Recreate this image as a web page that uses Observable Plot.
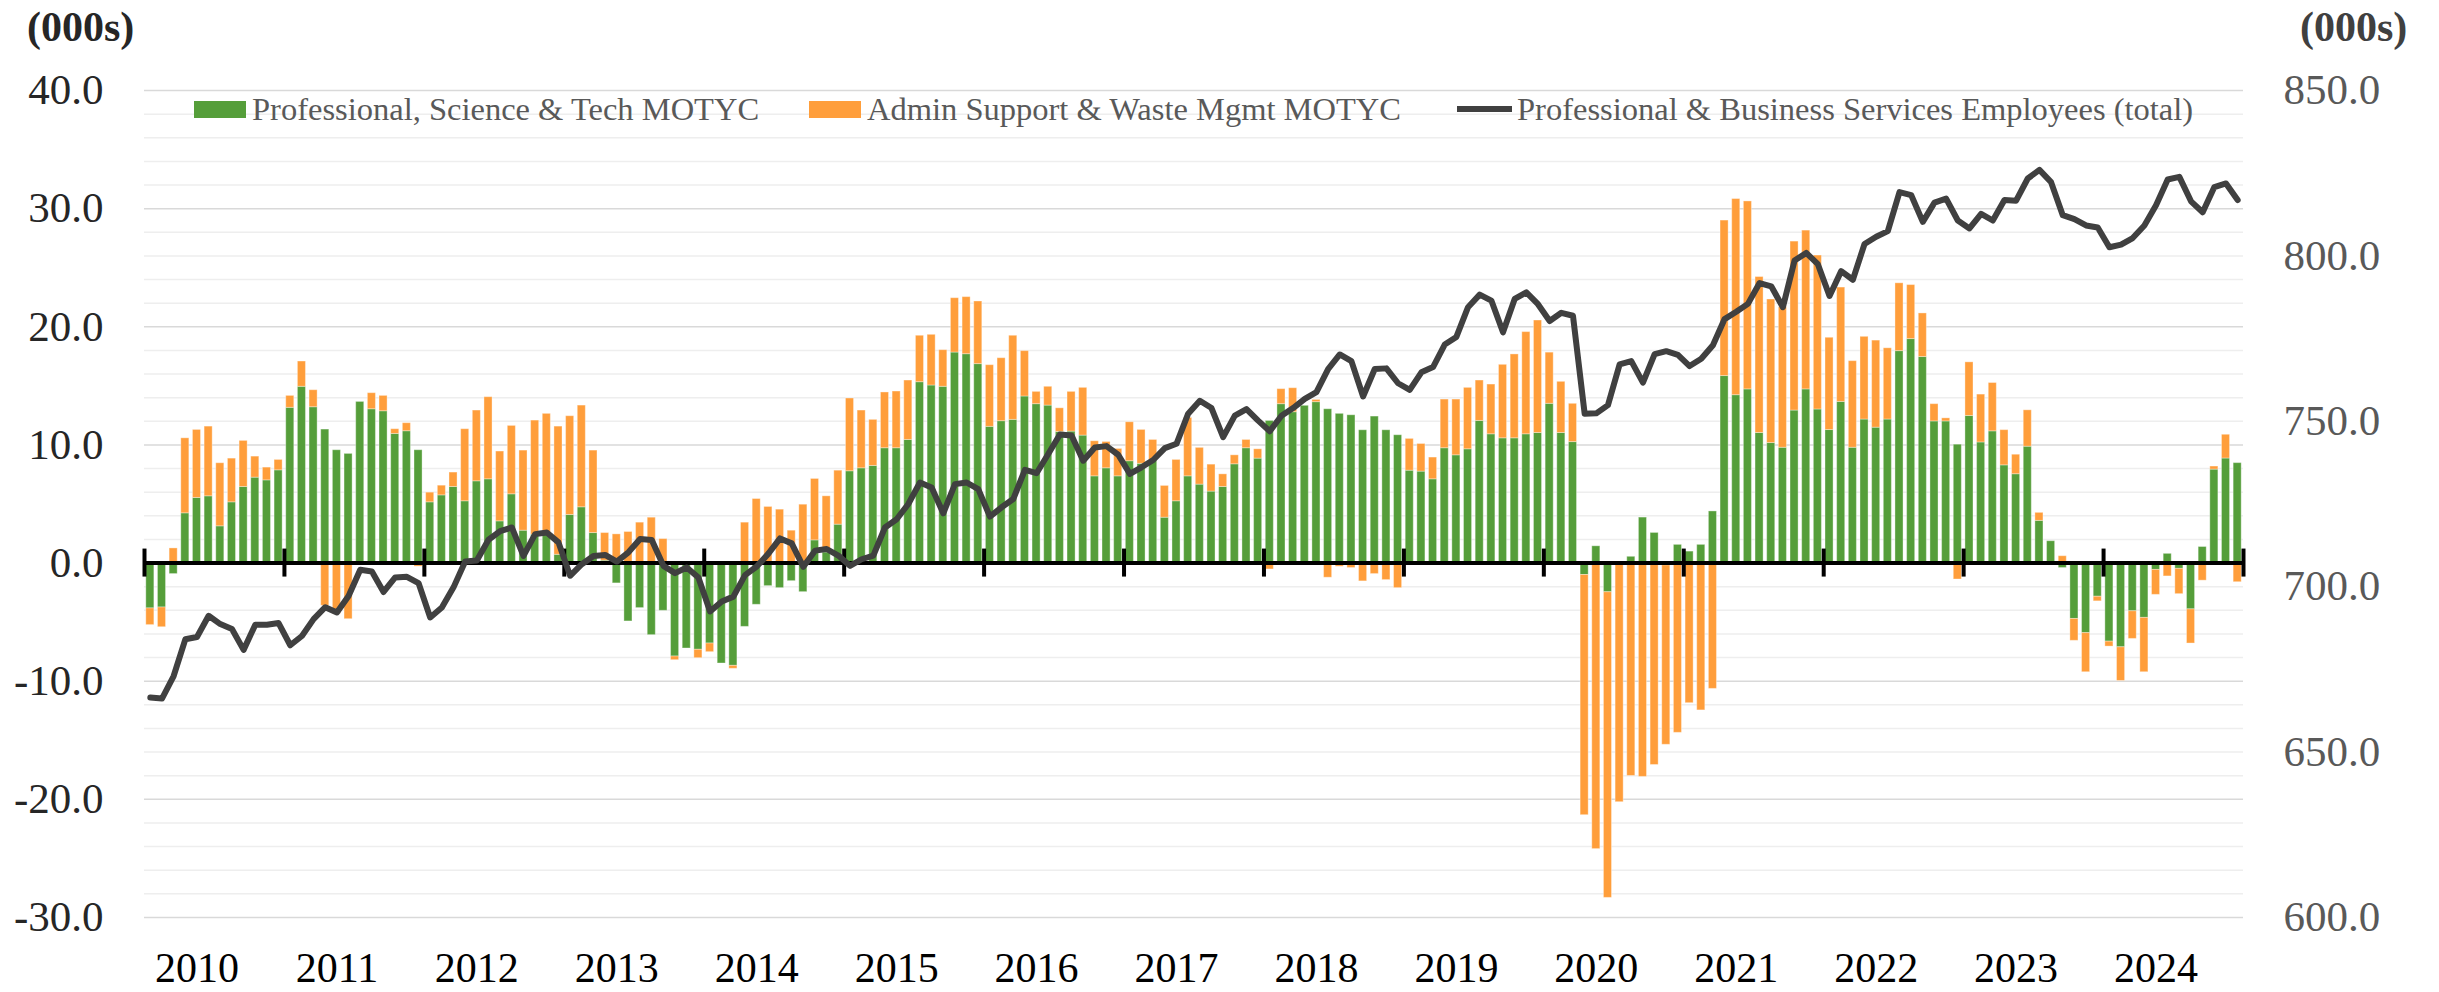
<!DOCTYPE html>
<html>
<head>
<meta charset="utf-8">
<script src="https://cdn.jsdelivr.net/npm/d3@7"></script>
<script src="https://cdn.jsdelivr.net/npm/@observablehq/plot@0.6"></script>
<style>
  html, body { margin: 0; padding: 0; background: #fff; }
  #wrap { position: relative; width: 2439px; height: 992px; font-family: "Liberation Serif", serif; }
  .unit { position: absolute; top: 6px; font-weight: bold; font-size: 42px; line-height: 42px; }
  .item { position: absolute; top: 89px; height: 40px; display: flex; align-items: center; font-size: 32.5px; color: #595959; white-space: nowrap; }
  .sw { display: inline-block; width: 52px; height: 17px; margin-right: 6px; }
  .ln { display: inline-block; width: 55px; height: 6px; margin-right: 5px; background: #404040; }
</style>
</head>
<body>
<div id="wrap"></div>
<script>
// ---- data (000s) ----
const years = [2010, 2011, 2012, 2013, 2014, 2015, 2016, 2017, 2018, 2019, 2020, 2021, 2022, 2023, 2024];
const seriesNames = ["Professional, Science & Tech MOTYC", "Admin Support & Waste Mgmt MOTYC"];
const lineName = "Professional & Business Services Employees (total)";
const leftTicks = [-30, -20, -10, 0, 10, 20, 30, 40];
const rightTicks = [600, 650, 700, 750, 800, 850];

// Professional, Science & Tech — month over the year change, Jan 2010 .. Dec 2024
const pst = [
  -3.84, -3.76, -0.93, 4.21, 5.51, 5.65, 3.11, 5.14, 6.44, 7.23, 7.00, 7.85,
  13.14, 14.92, 13.19, 11.30, 9.55, 9.24, 13.64, 13.02, 12.85, 10.93, 11.16, 9.55,
  5.14, 5.73, 6.44, 5.23, 6.92, 7.09, 3.53, 5.82, 2.74, 2.40, 2.60, 0.70,
  4.07, 4.72, 2.54, 0.20, -1.72, -4.94, -3.81, -6.10, -4.04, -7.91, -7.23, -7.34,
  -6.81, -8.50, -8.70, -5.40, -3.53, -1.95, -2.12, -1.53, -2.46, 1.92, 0.90, 3.25,
  7.77, 8.02, 8.22, 9.72, 9.72, 10.42, 15.31, 15.03, 14.92, 17.82, 17.68, 16.84,
  11.53, 12.01, 12.12, 14.10, 13.45, 13.33, 11.10, 11.13, 10.79, 7.34, 8.02, 7.34,
  8.62, 8.40, 8.67, 3.84, 5.23, 7.34, 6.64, 6.05, 6.44, 8.36, 9.72, 8.84,
  12.03, 13.45, 12.77, 13.31, 13.62, 13.02, 12.63, 12.51, 11.24, 12.40, 11.24, 10.82,
  7.82, 7.74, 7.09, 9.72, 9.12, 9.63, 12.03, 10.90, 10.56, 10.56, 10.90, 11.01,
  13.48, 11.01, 10.24, -1.01, 1.42, -2.47, 0.00, 0.53, 3.85, 2.55, -0.20, 1.54,
  0.97, 1.54, 4.37, 15.83, 14.21, 14.70, 11.01, 10.16, 9.76, 12.91, 14.70, 13.00,
  11.26, 13.64, 9.76, 12.15, 11.46, 12.15, 17.94, 18.96, 17.44, 11.99, 11.99, 10.02,
  12.45, 10.21, 11.15, 8.27, 7.52, 9.85, 3.57, 1.85, -0.42, -4.73, -5.93, -2.85,
  -6.65, -7.13, -4.08, -4.64, -0.58, 0.78, -0.49, -3.92, 1.36, 7.91, 8.85, 8.46
];

// Admin Support & Waste Mgmt — month over the year change
const adm = [
  -1.41, -1.67, 1.24, 6.35, 5.76, 5.90, 5.34, 3.70, 3.90, 1.78, 1.08, 0.88,
  1.01, 2.14, 1.44, -3.62, -4.32, -4.75, -0.10, 1.36, 1.30, 0.40, 0.68, -0.30,
  0.82, 0.82, 1.22, 6.10, 5.99, 6.95, 5.91, 5.79, 6.78, 9.66, 10.03, 10.85,
  8.36, 8.61, 6.98, 2.34, 2.43, 2.63, 3.42, 3.84, 2.03, -0.31, 0.00, -0.71,
  -0.73, 0.00, -0.25, 3.42, 5.42, 4.75, 4.52, 2.74, 4.94, 5.20, 4.75, 4.57,
  6.16, 4.89, 3.90, 4.72, 4.80, 5.03, 3.93, 4.29, 3.10, 4.60, 4.83, 5.30,
  5.22, 5.33, 7.12, 3.84, 1.04, 1.59, 2.00, 3.36, 4.04, 2.97, 2.23, 2.32,
  3.30, 2.87, 1.75, 2.69, 3.50, 4.95, 3.11, 2.28, 1.07, 0.76, 0.70, 0.79,
  -0.54, 1.27, 2.03, 0.00, 0.19, -1.24, -0.31, -0.42, -1.55, -0.93, -1.44, -2.12,
  2.69, 2.34, 1.84, 4.12, 4.72, 5.20, 3.42, 4.21, 6.22, 7.10, 8.65, 9.52,
  4.33, 4.33, 3.24, -20.33, -24.21, -25.87, -20.24, -18.02, -18.10, -17.09, -15.18, -14.37,
  -11.86, -12.47, -10.65, 13.16, 16.60, 15.91, 13.20, 12.15, 11.90, 14.30, 13.44, 13.03,
  7.81, 9.68, 7.33, 7.00, 7.37, 6.03, 5.74, 4.57, 3.69, 1.46, 0.26, -1.39,
  4.54, 4.05, 4.09, 2.98, 1.65, 3.08, 0.68, 0.00, 0.58, -1.85, -3.31, -0.39,
  -0.42, -2.85, -2.34, -4.60, -2.11, -1.13, -2.14, -2.89, -1.49, 0.26, 2.01, -1.62
];

// Professional & Business Services Employees (total), right axis
const employees = [
  666.5, 666.2, 673.0, 684.1, 684.8, 691.2, 688.7, 687.2, 680.9, 688.5, 688.5, 689.0,
  682.3, 685.1, 690.2, 693.8, 692.2, 697.2, 705.1, 704.6, 698.4, 702.8, 703.0, 701.1,
  690.7, 693.7, 699.8, 707.6, 707.9, 714.2, 716.8, 717.9, 709.3, 715.9, 716.4, 713.4,
  703.3, 706.8, 709.3, 709.6, 707.6, 710.4, 714.4, 714.1, 706.3, 704.1, 705.8, 702.8,
  692.5, 695.5, 697.0, 703.5, 706.1, 710.0, 714.6, 713.1, 706.0, 710.9, 711.4, 709.4,
  706.3, 708.3, 709.4, 717.9, 720.4, 725.0, 731.5, 730.0, 722.2, 731.0, 731.5, 729.5,
  721.2, 724.0, 726.5, 735.3, 734.3, 740.1, 746.0, 745.7, 738.1, 742.1, 742.5, 739.9,
  734.1, 736.1, 738.3, 741.9, 743.2, 752.3, 756.2, 754.0, 745.2, 751.7, 753.7, 750.2,
  747.0, 751.7, 754.0, 756.8, 758.8, 765.8, 770.2, 768.2, 757.5, 765.8, 766.0, 761.5,
  759.5, 764.8, 766.4, 773.2, 775.5, 784.5, 788.3, 786.5, 776.9, 787.0, 789.0, 785.4,
  780.3, 782.8, 781.9, 752.3, 752.4, 754.9, 767.2, 768.2, 761.7, 770.3, 771.2, 770.1,
  766.7, 768.9, 773.0, 780.9, 783.1, 785.5, 791.8, 790.8, 784.5, 798.6, 800.9, 797.5,
  787.9, 795.4, 792.8, 803.6, 805.8, 807.5, 819.3, 818.4, 810.3, 816.1, 817.3, 810.7,
  808.3, 812.7, 810.7, 816.9, 816.7, 823.4, 826.0, 822.3, 812.3, 811.1, 809.2, 808.6,
  802.6, 803.4, 805.4, 809.2, 815.3, 823.1, 823.9, 816.5, 813.2, 820.8, 821.9, 816.9
];

const colors = ["#559E3A", "#FF9E3B"];
const lineColor = "#404040";

// ---- derived structures ----
const nMonths = pst.length;
const months = d3.range(nMonths);
const rows = [
  ...months.map(m => ({m, v: pst[m], s: seriesNames[0]})),
  ...months.map(m => ({m, v: adm[m], s: seriesNames[1]}))
];
const leftDomain = [leftTicks[0], leftTicks[leftTicks.length - 1]];
const rightDomain = [rightTicks[0], rightTicks[rightTicks.length - 1]];
const toLeft = v => leftDomain[0] + (v - rightDomain[0]) * (leftDomain[1] - leftDomain[0]) / (rightDomain[1] - rightDomain[0]);
const fromLeft = v => rightDomain[0] + (v - leftDomain[0]) * (rightDomain[1] - rightDomain[0]) / (leftDomain[1] - leftDomain[0]);
const gridAll = d3.range(leftDomain[0], leftDomain[1] + 1, 2);
const gridMajor = gridAll.filter(v => v % 10 === 0 && v !== 0);
const gridMinor = gridAll.filter(v => v % 10 !== 0);
const yearStarts = d3.range(0, years.length + 1).map(k => k * 12);

const chart = Plot.plot({
  width: 2439,
  height: 992,
  marginLeft: 144,
  marginRight: 196,
  marginTop: 90,
  marginBottom: 75,
  style: {fontFamily: '"Liberation Serif", serif', background: "white"},
  x: {type: "linear", domain: [0, nMonths]},
  y: {domain: leftDomain},
  color: {domain: seriesNames, range: colors},
  marks: [
    Plot.ruleY(gridMinor, {stroke: "#eeeeee", strokeWidth: 1.5}),
    Plot.ruleY(gridMajor, {stroke: "#d9d9d9", strokeWidth: 1.5}),
    Plot.rectY(rows, {
      x1: d => d.m, x2: d => d.m + 1, y: "v", fill: "s",
      insetLeft: 1.8, insetRight: 1.8,
      stroke: "#ffffff", strokeOpacity: 0.35, strokeWidth: 1
    }),
    Plot.ruleY([0], {stroke: "#000", strokeWidth: 4}),
    Plot.ruleX(yearStarts, {y1: 0, y2: 0, insetTop: -14, insetBottom: -14, stroke: "#000", strokeWidth: 4}),
    Plot.line(months, {
      x: m => m + 0.5, y: m => toLeft(employees[m]),
      stroke: lineColor, strokeWidth: 6, strokeLinejoin: "round", strokeLinecap: "round"
    }),
    Plot.axisY({anchor: "left", ticks: leftTicks, tickFormat: d => d.toFixed(1),
      tickSize: 0, tickPadding: 41, fontSize: 43, color: "#262626", label: null}),
    Plot.axisY({anchor: "right", ticks: rightTicks.map(toLeft), tickFormat: d => fromLeft(d).toFixed(1),
      tickSize: 0, tickPadding: 40, fontSize: 43, color: "#595959", label: null}),
    Plot.axisX({ticks: years.map((y, k) => k * 12 + 4.5), tickFormat: v => String(years[Math.floor(v / 12)]),
      tickSize: 0, tickPadding: 35, fontSize: 42, color: "#000", label: null})
  ]
});

const wrap = document.getElementById("wrap");
wrap.appendChild(chart);

// units
const uL = document.createElement("div");
uL.className = "unit"; uL.style.left = "27px"; uL.style.color = "#262626"; uL.textContent = "(000s)";
wrap.appendChild(uL);
const uR = document.createElement("div");
uR.className = "unit"; uR.style.left = "2300px"; uR.style.color = "#404040"; uR.textContent = "(000s)";
wrap.appendChild(uR);

// legend
const legendItems = [
  {label: seriesNames[0], kind: "bar", color: colors[0], left: 194},
  {label: seriesNames[1], kind: "bar", color: colors[1], left: 809},
  {label: lineName, kind: "line", color: lineColor, left: 1457}
];
for (const it of legendItems) {
  const d = document.createElement("div");
  d.className = "item"; d.style.left = it.left + "px";
  const s = document.createElement("span");
  s.className = it.kind === "bar" ? "sw" : "ln";
  s.style.background = it.color;
  d.appendChild(s);
  const t = document.createElement("span");
  t.textContent = it.label;
  d.appendChild(t);
  wrap.appendChild(d);
}
</script>
</body>
</html>
